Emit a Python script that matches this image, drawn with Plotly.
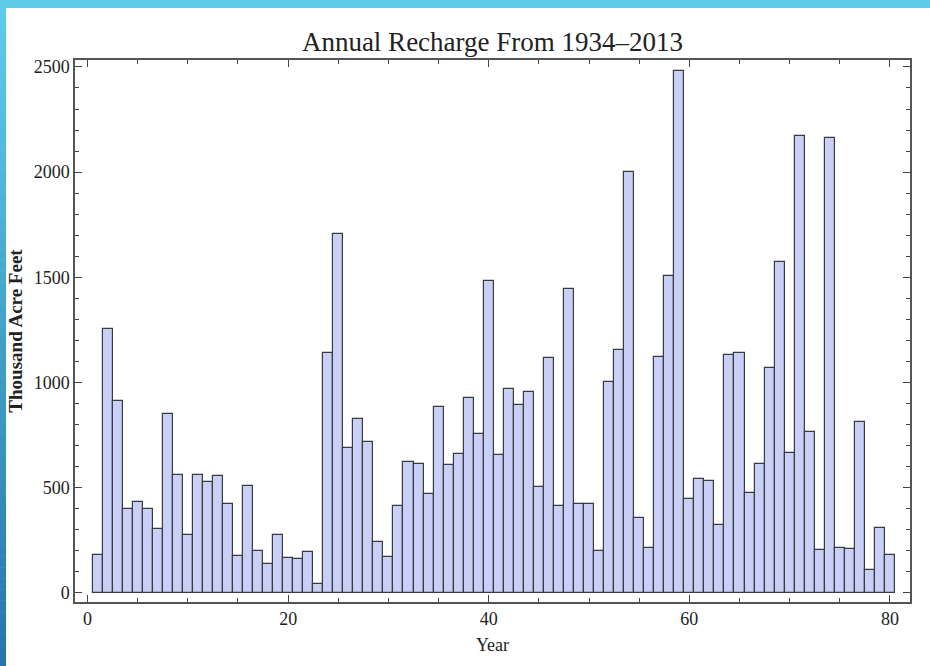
import plotly.graph_objects as go

# Annual recharge, one value per year index (1 = 1934 ... 80 = 2013), thousand acre-feet
years = list(range(1, 81))
recharge = [
    180, 1255, 910, 400, 430, 400, 305, 850, 560, 275,
    560, 525, 555, 425, 177, 507, 198, 138, 275, 166,
    160, 193, 42, 1142, 1708, 690, 825, 716, 241, 172,
    414, 622, 615, 469, 885, 610, 662, 927, 754, 1483,
    657, 971, 895, 955, 502, 1117, 411, 1447, 421, 421,
    199, 1002, 1153, 2002, 357, 216, 1120, 1506, 2479, 447,
    540, 531, 322, 1132, 1141, 475, 615, 1068, 1574, 667,
    2172, 766, 203, 2161, 216, 209, 813, 110, 311, 182,
]

x_ticks = [0, 20, 40, 60, 80]
y_ticks = [0, 500, 1000, 1500, 2000, 2500]

W, H = 930, 666
L, R, T, B = 75, 20, 60, 64
pw, ph = W - L - R, H - T - B

def px_to_paper_x(px):
    return (px - L) / pw

def px_to_paper_y(py):
    return (H - B - py) / ph

fig = go.Figure()
fig.add_trace(go.Bar(
    x=years, y=recharge, width=1.0,
    marker=dict(color="#c9cff5", line=dict(color="#3a3a44", width=1.2)),
    showlegend=False,
))

serif = "Liberation Serif, Times New Roman, serif"

shapes = []
# top cyan band
shapes.append(dict(type="rect", xref="paper", yref="paper",
                   x0=px_to_paper_x(0), x1=px_to_paper_x(W),
                   y0=px_to_paper_y(8), y1=px_to_paper_y(0),
                   fillcolor="#5ccbe8", line=dict(width=0), layer="below"))
# left strip with a vertical gradient, built from thin slices
n = 60
c0 = (92, 204, 234)
c1 = (38, 118, 170)
for i in range(n):
    t = i / (n - 1)
    col = tuple(int(round(a + (b - a) * t)) for a, b in zip(c0, c1))
    y0 = 8 + (H - 8) * i / n
    y1 = 8 + (H - 8) * (i + 1) / n
    shapes.append(dict(type="rect", xref="paper", yref="paper",
                       x0=px_to_paper_x(0), x1=px_to_paper_x(6),
                       y0=px_to_paper_y(y1 + 0.5), y1=px_to_paper_y(y0),
                       fillcolor="rgb(%d,%d,%d)" % col, line=dict(width=0), layer="below"))

axis_common = dict(
    showline=True, linecolor="#555555", linewidth=1.5, mirror="allticks",
    ticks="inside", tickcolor="#444444", ticklen=7, tickwidth=1.2,
    showgrid=False, zeroline=False,
    tickfont=dict(family=serif, size=18, color="#222222"),
)

fig.update_layout(
    width=W, height=H,
    margin=dict(l=L, r=R, t=T, b=B),
    paper_bgcolor="white", plot_bgcolor="white",
    bargap=0,
    title=dict(text="Annual Recharge From 1934–2013", x=(L + pw / 2) / W,
               xanchor="center", y=1 - 42 / H, yanchor="middle",
               font=dict(family=serif, size=27, color="#222222")),
    xaxis=dict(range=[-1.25, 82.0], tickvals=x_ticks,
               minor=dict(dtick=5, tick0=0, ticks="inside", ticklen=4, tickcolor="#444444"),
               title=dict(text="Year", font=dict(family=serif, size=18, color="#222222"), standoff=10),
               **axis_common),
    yaxis=dict(range=[-43, 2533], tickvals=y_ticks,
               minor=dict(dtick=100, tick0=0, ticks="inside", ticklen=4, tickcolor="#444444"),
               title=dict(text="<b>Thousand Acre Feet</b>", font=dict(family=serif, size=19, color="#222222"), standoff=6),
               **axis_common),
    shapes=shapes,
)

fig.write_html("out.html")
